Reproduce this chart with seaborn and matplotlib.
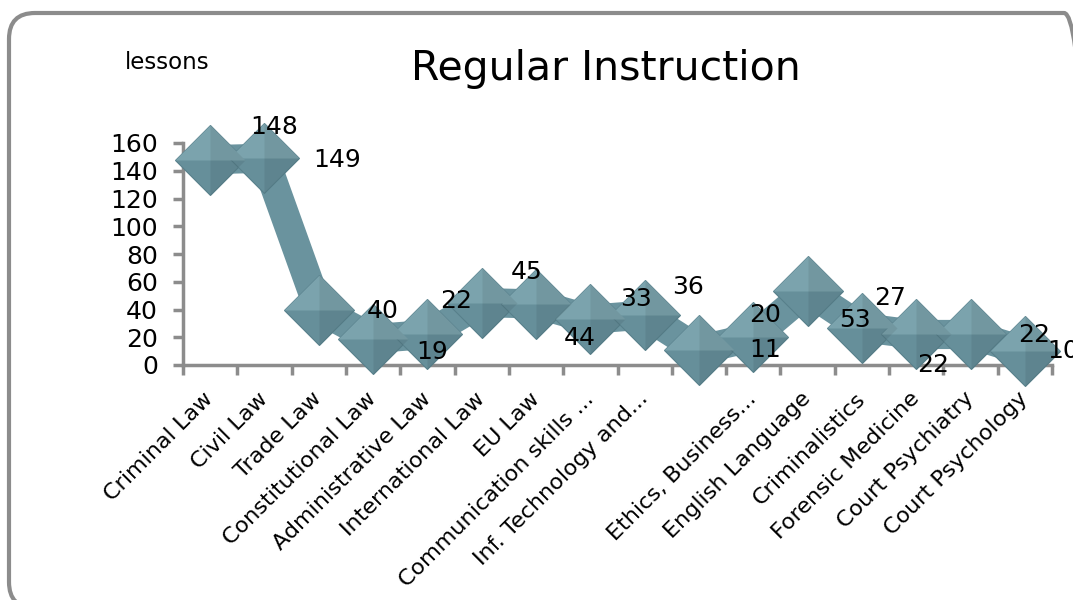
import numpy as np
import pandas as pd
import seaborn as sns
import matplotlib.pyplot as plt
from matplotlib.patches import FancyBboxPatch
from matplotlib.ticker import FixedLocator

# Data
subjects = [
    "Criminal Law", "Civil Law", "Trade Law", "Constitutional Law",
    "Administrative Law", "International Law", "EU Law",
    "Communication skills ...", "Inf. Technology and...", "",
    "Ethics, Business...", "English Language", "Criminalistics",
    "Forensic Medicine", "Court Psychiatry", "Court Psychology",
]
lessons = [148, 149, 40, 19, 22, 45, 44, 33, 36, 11, 20, 53, 27, 22, 22, 10]
y_ticks = [0, 20, 40, 60, 80, 100, 120, 140, 160]

# Where each value label sits relative to its marker (pixels, Excel-like placement)
label_offsets = [
    (64, 33), (73, -2), (64, -2), (59, -13), (29, 33), (45, 31), (44, -34),
    (46, 20), (43, 28), (66, 0), (12, 22), (47, -29), (28, 30), (17, -31),
    (64, -1), (38, 0),
]

df = pd.DataFrame({"pos": np.arange(len(subjects)), "lessons": lessons})

# Colours
ribbon = "#6a939e"
face_mid = "#668f9a"
face_light = "#7ba3ad"
edge = "#58808b"
axis_grey = "#8c8c8c"

sns.set_theme(style="white")
plt.rcParams["font.family"] = ["DejaVu Sans"]
plt.rcParams["text.color"] = "black"
plt.rcParams["xtick.color"] = "black"
plt.rcParams["ytick.color"] = "black"

W, H = 1073, 600
fig = plt.figure(figsize=(W / 100, H / 100), dpi=100)
ax = fig.add_axes([183 / W, 1 - 365 / H, (1052 - 183) / W, (365 - 143) / H])

# Thick ribbon line
sns.lineplot(data=df, x="pos", y="lessons", ax=ax, color=ribbon, linewidth=21,
             solid_joinstyle="miter", sort=False, zorder=2)

# Pyramid-like diamond markers: base, lighter top half, darker right half
ms = 36
ax.plot(df["pos"], df["lessons"], ls="none", marker="D", ms=ms,
        mfc=face_mid, mec=edge, mew=0.8, zorder=3, clip_on=False)
ax.plot(df["pos"], df["lessons"], ls="none", marker="D", ms=ms,
        fillstyle="top", mfc=face_light, mfcalt="none", mec="none",
        zorder=4, clip_on=False)
ax.plot(df["pos"], df["lessons"], ls="none", marker="D", ms=ms,
        fillstyle="right", mfc=(0, 0, 0, 0.07), mfcalt="none", mec="none",
        zorder=5, clip_on=False)

# Value labels
for xp, val, (dx, dy) in zip(df["pos"], lessons, label_offsets):
    ax.annotate(str(val), (xp, val), xytext=(dx, dy), textcoords="offset pixels",
                ha="center", va="center", fontsize=18, color="black",
                zorder=10, annotation_clip=False)

# Axes styling
ax.set_xlim(-0.5, len(subjects) - 0.5)
ax.set_ylim(0, 160)
ax.set_yticks(y_ticks)
ax.set_xticks(df["pos"])
ax.set_xticklabels(subjects, rotation=45, ha="right", va="center",
                   rotation_mode="anchor", fontsize=16)
ax.xaxis.set_minor_locator(FixedLocator(np.arange(-0.5, len(subjects), 1.0)))
ax.tick_params(axis="x", which="major", length=0, pad=22)
ax.tick_params(axis="x", which="minor", length=7, width=2.5, color=axis_grey,
               direction="out", bottom=True)
ax.tick_params(axis="y", length=7, width=2.5, color=axis_grey, direction="out",
               left=True, pad=11, labelsize=18)
ax.set_xlabel("")
ax.set_ylabel("")
ax.grid(False)
sns.despine(ax=ax)
for side in ("left", "bottom"):
    ax.spines[side].set_color(axis_grey)
    ax.spines[side].set_linewidth(2.5)
ax.patch.set_alpha(0)

# Titles
fig.text(606 / W, 1 - 80 / H, "Regular Instruction", fontsize=29.5,
         ha="center", va="baseline")
fig.text(125 / W, 1 - 69 / H, "lessons", fontsize=16.5, ha="left",
         va="baseline")

# Rounded outer frame (right and bottom edges run past the picture)
frame = FancyBboxPatch((9 / W, -8 / H), (1090 - 9) / W, (600 + 8 - 13) / H,
                       boxstyle=f"round,pad=0,rounding_size={26 / W}",
                       mutation_aspect=W / H, transform=fig.transFigure,
                       fill=False, edgecolor=axis_grey, linewidth=3,
                       clip_on=False)
fig.patches.append(frame)

fig.savefig("out.png", dpi=100, bbox_inches=None)
